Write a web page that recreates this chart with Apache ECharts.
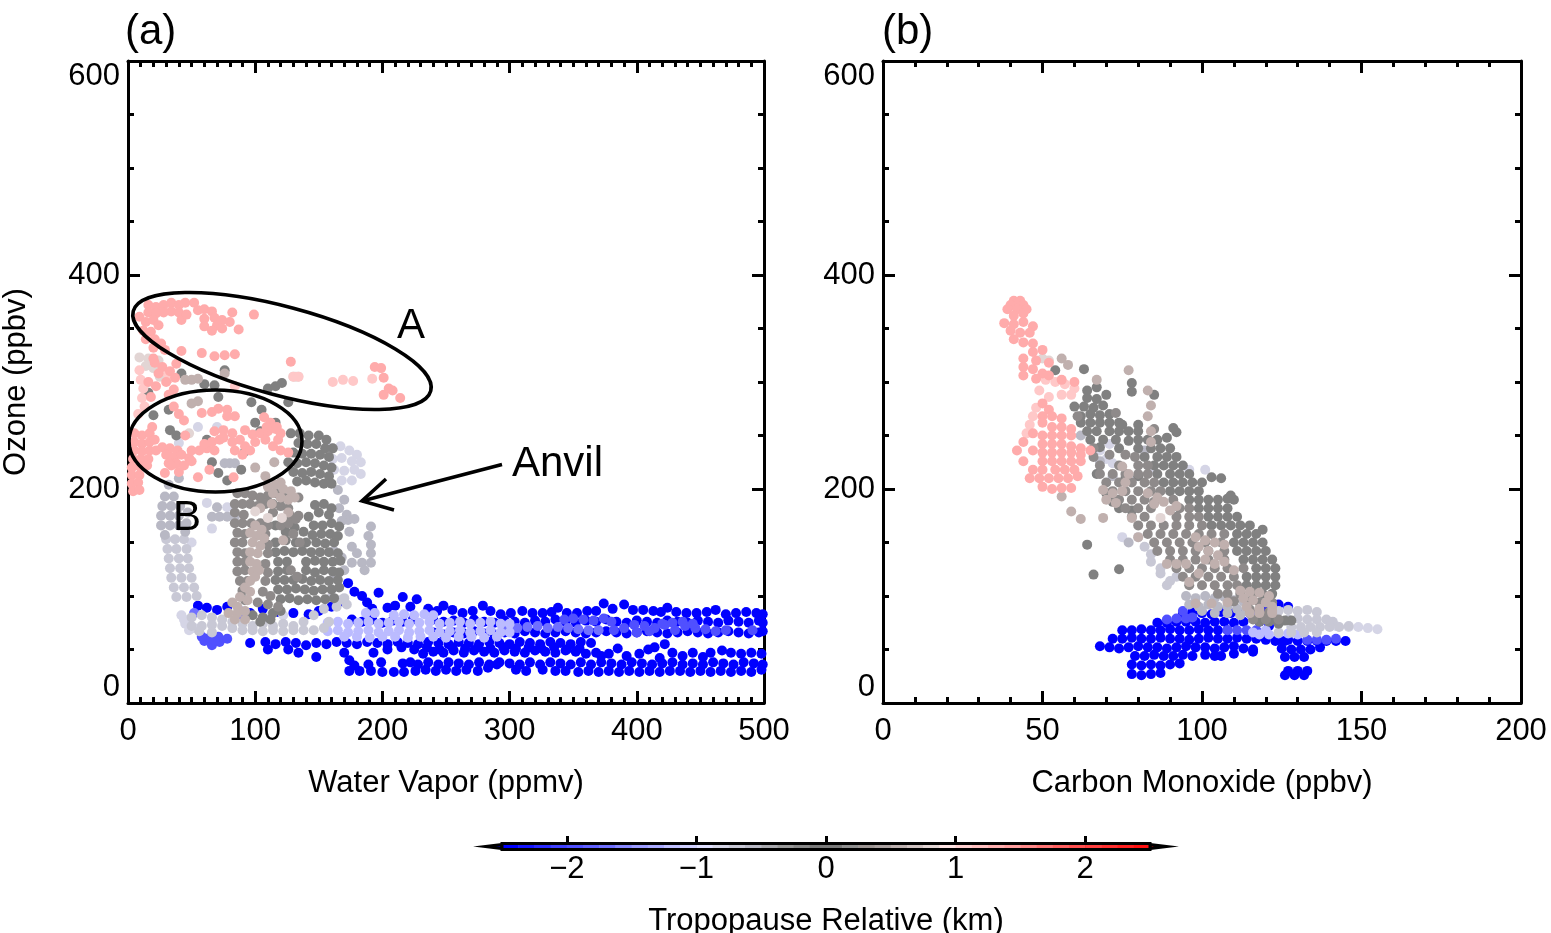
<!DOCTYPE html>
<html><head><meta charset="utf-8">
<style>html,body{margin:0;padding:0;background:#fff}#c{width:1551px;height:933px}</style>
<script src="https://cdn.jsdelivr.net/npm/echarts@6/dist/echarts.min.js"></script></head>
<body><div id="c"></div><script>
// ---- Panel (a): water vapor (ppmv), ozone (ppbv); flat x,y lists per colour class
const aBlue=[55,91,62,89,70,87,78,90,88,86,96,84,106,88,118,85,130,84,142,83,150,86,160,90,168,95,173,112,178,104,184,100,188,94,197,103,192,88,204,89,216,99,210,91,227,97,222,90,236,88,248,91,243,86,255,87,263,84,271,86,279,91,285,86,293,83,301,84,310,86,318,84,326,84,338,89,333,85,345,84,353,84,361,86,368,86,374,93,381,88,390,92,397,87,405,87,413,86,424,89,419,85,431,85,439,84,447,84,455,85,462,87,470,83,478,84,486,85,494,84,499,83,
176,78,184,76,192,78,200,75,208,77,216,76,224,78,240,78,248,76,256,77,264,75,272,78,280,76,288,75,296,77,304,76,312,75,320,77,328,76,336,78,344,76,352,75,360,77,368,76,376,78,384,76,392,75,400,77,408,76,416,75,424,77,432,76,440,75,448,77,456,76,464,75,472,77,480,76,488,75,496,77,499,75,
240,66,248,64,256,66,264,65,272,67,280,65,288,64,296,66,304,65,312,67,320,66,328,65,336,66,344,67,352,66,360,65,368,66,376,67,384,66,392,65,400,66,408,67,416,66,424,65,432,66,440,67,448,66,456,65,464,66,472,67,480,66,488,65,496,66,499,67,
108,57,116,55,124,57,132,56,140,54,148,56,156,55,164,57,172,56,180,55,188,57,196,56,204,55,212,57,220,56,228,55,236,57,244,56,252,55,260,57,268,56,276,55,284,57,292,56,300,55,308,57,316,56,324,55,332,57,340,56,348,55,356,57,364,56,
96,56,110,50,126,50,134,47,148,43,170,47,174,40,193,47,204,50,232,46,240,48,248,47,256,49,264,47,272,49,280,48,288,47,296,49,304,48,312,47,320,49,328,48,336,47,344,49,352,48,360,46,368,47,378,46,385,51,392,44,402,46,409,50,418,42,428,47,436,44,444,47,452,43,458,47,467,49,474,47,482,46,490,47,498,46,
199,38,216,37,222,38,228,36,236,38,244,36,252,38,260,37,268,36,276,38,284,36,292,38,300,37,308,36,316,38,324,36,332,38,340,37,348,36,356,38,364,36,372,38,380,37,388,36,396,38,404,37,412,36,420,37,428,38,436,36,444,37,452,36,460,38,468,37,476,36,484,38,492,37,499,36,
174,30,182,30,191,30,200,29,209,29,217,29,226,30,234,31,242,30,250,31,258,30,266,31,275,30,283,33,290,36,305,31,313,30,326,31,336,30,344,30,354,29,362,30,370,29,378,30,386,29,394,30,402,29,410,30,418,29,426,30,434,30,442,29,450,30,458,29,466,30,474,29,482,30,490,29,498,31,178,35,189,36,
215,52,225,50,235,52,245,50,255,52,265,51,275,52,285,51,295,52,305,51,315,52,325,51,335,52,345,50,355,51,372,44,414,52,422,55];
const aMid=[60,58,66,54,72,57,78,60,64,61,58,62,71,62,68,59,343,78,350,79,358,78,366,77,374,79,380,76,382,68,390,70,398,73,406,72,414,70,422,73,430,68,438,72,446,70,454,69,462,67,470,68,491,68,400,66,410,67,420,74,436,76,444,74,428,75];
const aSoft=[298,72,306,70,314,71,322,72,330,70,338,71,346,70,354,69,362,68,370,68,90,82,52,84];
const aPeri=[187,84,194,84,209,82,217,83,225,82,233,83,240,82,157,75,165,76,173,74,181,75,189,76,197,74,205,75,213,76,221,74,229,75,237,76,245,74,253,75,261,76,269,74,277,75,285,76,293,74,300,74,157,67,165,68,173,66,181,67,189,68,197,66,205,67,213,68,221,66,229,67,237,68,245,66,253,67,261,68,269,66,277,67,285,68,293,66,300,66,170,62,180,62,190,61,200,62,210,62,220,61,230,62,240,62,250,61,260,62,270,62,280,61,290,62];
const aLav=[42,82,45,74,48,68,44,78,52,70,160,238,167,240,174,236,180,232,183,225,176,226,168,229,161,228,178,218,170,217,162,218,183,214,176,208,168,208,55,258,70,258,40,243,62,187,78,183,66,163,50,150,112,81,122,82];
const aLight=[50,80,58,82,66,80,74,78,82,76,90,74,98,72,106,74,114,72,122,74,130,72,138,76,146,82,154,88,158,76,50,72,58,72,66,73,74,72,82,70,90,68,98,68,106,67,114,68,122,67,130,68,138,68,146,68,154,70,66,66,56,67,160,99,166,96,172,92,164,90,170,98,
38,99,46,99,54,100,36,108,44,108,52,108,34,117,42,117,50,117,33,126,41,126,48,126,32,135,40,135,47,135,31,144,38,144,46,144,30,153,37,153,44,153];
const aSlate=[29,193,36,193,27,184,34,184,41,184,26,175,33,175,40,175,47,178,26,166,33,166,40,166,46,168,29,157,45,160,70,183,66,174,72,174,78,174,84,174,76,224,80,224,84,224,165,199,170,190,166,182,172,176,173,171,168,170,178,172,174,160,176,146,180,140,176,131,184,131,191,131,186,124,191,140,191,148,191,165,189,156,162,142,168,136,162,120,170,124,32,204,40,210];
const aDark=[16,290,26,311,42,308,76,311,121,299,110,294,116,296,97,281,126,281,71,286,60,298,68,297,20,269,32,274,33,255,38,250,62,246,66,225,71,215,78,208,89,218,92,235,105,274,100,262,104,254,116,262,128,252,135,252,142,250,150,250,156,246,134,243,141,242,148,242,155,238,161,238,130,234,137,233,144,233,151,232,158,230,126,225,133,224,140,225,147,224,154,222,160,220,130,216,137,215,144,216,151,214,158,212,133,207,140,208,147,206,154,205,160,205,142,174,150,178,158,176,147,185,154,186,160,182,146,166,153,166,160,168,166,165,
116,166,124,160,131,164,138,160,145,157,152,158,159,158,165,156,116,150,124,152,132,150,140,150,148,150,155,149,162,150,116,141,123,142,130,141,137,142,144,141,151,141,158,141,165,140,118,132,125,132,140,132,147,133,154,132,161,132,167,133,118,123,125,124,140,124,147,122,154,124,161,123,166,122,116,115,123,115,130,115,137,116,144,114,151,115,158,114,165,115,118,106,125,106,132,107,139,106,146,105,153,106,160,106,166,108,120,97,127,98,134,96,141,97,148,96,155,97,162,98,98,82,106,80,114,84,104,76,112,78,120,86];
const aTaupe=[86,196,92,196,98,194,104,192,110,194,116,196,122,192,128,194,134,192,84,186,90,186,96,186,102,184,108,186,114,186,120,184,126,182,84,178,91,176,114,178,120,166,127,176,134,175,84,168,90,168,97,168,104,168,110,166,86,159,92,158,108,158,84,150,90,150,110,148,86,141,92,140,110,140,86,132,92,132,108,130,86,123,92,124,110,122,88,114,94,114,108,114,90,105,106,104,112,100,92,96,102,94,110,92,118,90,126,168,132,172,130,158,135,150,128,124,133,118];
const aTan=[45,302,50,302,55,303,76,308,50,280,55,282,115,225,100,220,108,212,120,206,110,202,116,204,122,200,128,198,131,192,114,196,120,192,126,190,100,166,105,162,96,159,101,156,107,154,98,150,104,147,96,141,102,140,96,132,101,130,98,123,103,124,96,114,100,118,92,108,96,104,88,99,94,96,82,94,86,90,79,84,86,84,92,86,84,78,92,78,122,152,126,178,113,186,104,182];
const aBlush=[100,179,110,173,121,173,9,323,16,322,24,320,14,315,20,313,48,252,25,305,132,305,134,305,130,305];
const aLightPink=[130,305,134,305,161,300,169,302,177,301,192,303,9,311,10,302,12,294,11,285,13,277,8,270,28,310,32,303,84,296];
const aPink=[16,372,22,370,28,372,34,374,40,372,16,365,22,364,28,365,34,366,40,365,45,374,52,374,42,358,46,363,55,367,60,368,66,366,60,359,68,360,74,358,80,356,87,349,82,365,70,353,60,352,66,348,74,350,99,363,9,361,14,356,20,358,24,353,12,348,18,347,14,340,21,340,26,336,29,330,20,332,42,329,58,327,68,324,76,325,84,326,128,319,194,314,199,313,201,304,205,294,208,292,201,288,214,285,
21,318,27,314,33,310,37,304,24,308,30,300,36,293,16,300,22,296,32,288,20,322,18,286,38,317,
5,252,11,250,17,252,5,244,11,242,17,244,21,246,5,236,11,235,17,236,22,236,4,228,10,228,16,228,3,220,9,221,15,222,3,213,9,213,3,205,8,206,4,198,9,199,
27,239,33,238,39,236,30,232,36,230,42,232,48,229,32,224,38,224,44,222,50,226,50,236,56,236,62,238,68,236,60,242,66,244,72,246,68,254,75,255,82,252,75,248,82,244,88,246,92,255,98,251,104,252,110,254,92,240,100,244,108,246,114,240,120,236,126,234,118,246,116,256,120,252,107,267,112,262,117,258,109,258,58,271,66,272,71,275,78,274,84,268,78,268,36,277,40,270,44,264,19,258,45,250,64,218,55,211,83,211,29,215,34,222,40,216,84,236,90,232,96,236];
// ---- Panel (b): carbon monoxide (ppbv), ozone (ppbv)
const bBlue=[78,27,81,26,84,27,87,28,78,36,81,35,84,36,87,35,90,36,93,37,79,44,82,44,85,45,88,44,91,44,94,45,97,44,101,45,104,44,
68,53,71,52,74,51,77,52,80,53,83,52,86,52,89,51,92,52,95,53,98,52,101,52,104,51,107,52,110,53,113,51,116,50,72,60,75,60,78,61,81,60,84,60,87,61,90,60,93,60,96,59,99,60,102,61,105,60,108,60,111,61,114,60,117,60,120,59,123,58,126,58,
75,68,78,68,81,69,84,68,87,68,90,69,93,68,96,68,99,69,102,68,105,68,108,68,86,75,89,75,92,76,95,76,98,76,101,75,104,76,107,76,110,75,113,76,94,84,97,85,100,84,103,83,106,85,109,84,112,83,115,84,118,76,121,72,124,92,127,90,120,90,
124,59,127,59,130,58,133,58,136,58,139,58,142,58,145,58,125,51,128,50,131,50,134,50,137,52,126,43,129,43,132,43,127,30,130,30,133,30,126,26,129,26,132,26,106,44,110,46,116,48];
const bMid=[89,78,92,79,95,79,97,80,108,68,111,68,114,68,117,68,133,59,136,59,139,59,142,60,94,86];
const bPeri=[118,64,121,64,124,65,127,65,130,64,120,68,116,66];
const bLav=[146,71,149,71,152,70,155,69,142,72,68,236,70,228,72,224,96,218,101,218,78,208,75,155,80,155,71,242,84,218];
const bLight=[124,86,127,87,130,86,133,87,136,85,124,78,127,78,130,79,133,78,136,78,139,78,141,76,128,71,131,71,134,71,137,71,140,71,143,71,146,72,124,66,128,66,132,66,136,66,82,146,84,139,84,132,87,126,87,121,89,110,92,118,90,114];
const bSlate=[95,100,98,98,101,100,104,98,107,99,110,96,113,95,96,92,99,90,102,92,105,90,108,90,111,88,114,86,100,86,104,84,108,84,112,82,77,150,72,212,82,236,62,250,68,226];
const bDark=[63,312,78,299,78,291,85,288,70,288,91,257,92,253,89,248,80,260,75,260,64,148,66,120,74,125,54,311,64,292,67,295,64,285,67,284,60,277,63,277,66,276,69,278,62,268,65,270,68,269,71,270,74,262,71,262,68,262,65,262,62,262,
77,254,80,254,74,254,71,254,67,254,64,254,83,246,86,246,80,246,77,245,73,246,65,246,69,246,90,238,87,238,84,238,80,238,68,239,74,238,92,230,89,230,86,230,82,230,94,222,91,222,88,222,85,222,96,214,93,214,90,214,86,214,97,206,100,206,103,211,106,210,94,206,91,206,88,206,99,198,96,198,93,198,90,198,108,191,110,190,109,194,105,190,102,190,99,190,96,190,108,182,105,182,102,182,99,182,111,174,108,174,105,174,102,174,115,166,112,166,109,166,106,166,103,166,117,158,114,158,111,158,119,162,119,150,116,150,113,150,110,150,120,142,117,142,114,142,111,142,122,134,119,134,116,134,113,134,123,126,120,126,117,126,123,118,120,118,117,118,114,118,123,110,120,110,117,110,114,110,122,102,119,102,116,102,70,196,72,188,76,210,80,212,67,214,74,182,78,180,120,80,123,78,126,77,128,77,124,74,118,76,121,76];
const bTaupe=[73,271,61,268,85,256,66,238,71,232,76,232,66,230,79,230,68,222,74,222,80,222,83,222,68,214,72,214,76,214,80,214,83,214,70,206,74,206,78,206,82,206,85,206,72,198,76,198,80,198,84,198,87,198,74,190,78,190,82,190,85,188,91,190,76,182,80,182,84,182,93,182,96,182,78,174,82,174,92,174,96,174,99,174,80,166,84,166,88,166,92,166,96,166,100,166,83,158,87,158,91,158,95,158,99,158,103,158,107,158,85,150,89,150,93,150,97,150,101,150,106,150,86,142,90,142,94,142,98,142,102,142,107,142,90,134,94,134,98,134,102,134,107,134,92,126,96,126,100,126,104,126,108,126,113,126,94,118,98,118,102,118,106,118,110,118,96,110,100,110,104,110,108,110,111,110,105,102,108,102,112,102,110,95,115,95,118,94,122,94,115,87,118,86,121,85,116,78,120,78,124,78];
const bTan=[77,311,83,292,84,278,83,268,67,302,56,322,58,316,84,254,84,244,59,179,62,172,69,173,56,193,69,199,72,196,70,190,73,187,75,221,77,214,76,206,75,198,83,196,86,192,88,188,92,184,85,186,90,180,78,173,98,155,101,152,104,150,107,148,99,146,102,142,105,138,107,132,101,134,104,130,89,130,92,130,95,130,99,121,96,113,110,124,80,155,112,105,115,104,118,103,121,100,113,98,116,96,120,94,122,90,114,90,118,88,122,86,115,84,118,84,122,84,103,93,108,94,98,93];
const bBlush=[50,322,52,320,87,173];
const bLightPink=[51,302,54,300,57,298,60,294,59,288,56,288,52,286,47,268,48,276,46,260,45,252,49,292];
const bPink=[41,376,43,376,40,372,44,372,39,368,42,368,45,368,41,362,44,364,38,355,41,354,44,356,47,352,40,348,43,346,46,346,41,340,44,337,47,336,47,328,50,330,44,322,48,320,52,318,44,314,47,312,50,308,44,306,48,303,52,306,56,302,60,300,50,280,52,274,50,268,53,268,56,266,50,262,53,258,56,258,59,256,47,252,50,250,53,250,56,250,59,250,44,244,50,242,53,242,56,242,59,240,62,238,42,236,47,236,50,234,53,234,56,234,59,234,62,232,65,236,44,226,50,226,53,226,56,226,59,226,62,226,54,218,50,218,47,218,57,218,60,218,46,210,49,210,52,210,55,210,58,210,61,212,50,202,53,200,56,201,59,201];
// ---- Colour scale and tick labels
const scaleColors=['#0000ff','#1515ff','#2a2aff','#4040ff','#5050ff','#6060ff','#7070ff','#8888ff','#9c9cff','#aaaaff','#c0c0ff','#d0d0ff','#e0e0ff','#d5d5e6','#c8c8d5','#b8b8c4','#a8a8ad','#989898','#888888','#7a7a7a','#7a7a7a','#8e8e8e','#9c9492','#a9a09f','#bcb0af','#cfc2c1','#e2d5d4','#ffe5e5','#ffd0d0','#ffc0c0','#ffb0b0','#ff9f9f','#ff8a8a','#ff7575','#ff6060','#ff5050','#ff4040','#ff3030','#ff2020','#ff1010','#ff0000'];
const scaleMin=-2.5, scaleStep=0.125;
const scaleTicks=[-2,-1,0,1,2];
const scaleEnds=[[-2.5,-2.63,'#0000ff'],[2.5,2.63,'#ff0000']];
const groupColors={Blue:'#0000ff',Mid:'#5050ff',Soft:'#7070ff',Peri:'#bbbbff',Lav:'#d5d5e6',Light:'#c8c8d5',Slate:'#b8b8c4',Dark:'#808080',Taupe:'#8e8a8a',Tan:'#c0b0ae',Blush:'#e2d5d4',LightPink:'#ffc8c8',Pink:'#ffabab'};
const FONT='"Liberation Sans"';
const pairs=f=>{const o=[];for(let i=0;i<f.length;i+=2)o.push([f[i],f[i+1]]);return o};
const scat=(name,d,idx)=>({type:'scatter',name,data:pairs(d),xAxisIndex:idx,yAxisIndex:idx,symbolSize:10,silent:true,animation:false,progressive:0,itemStyle:{color:groupColors[name],opacity:1}});
const line={show:true,onZero:false,lineStyle:{color:'#000',width:3}};
function xa(grid,max,interval,minor,name,top){return{gridIndex:grid,type:'value',min:0,max,interval,position:top?'top':'bottom',
  name:top?'':name,nameLocation:'middle',nameGap:65,nameTextStyle:{fontFamily:FONT,fontSize:31,color:'#000'},
  axisLine:line,axisTick:{show:true,inside:true,length:12,lineStyle:{color:'#000',width:3}},minorTick:{show:true,splitNumber:minor,length:6,lineStyle:{color:'#000',width:3}},
  splitLine:{show:false},minorSplitLine:{show:false},axisLabel:{show:!top,margin:13,fontFamily:FONT,fontSize:31,color:'#000',hideOverlap:false}}}
function ya(grid,name,right){return{gridIndex:grid,type:'value',min:0,max:600,interval:200,position:right?'right':'left',
  name:right?'':name,nameLocation:'middle',nameGap:96,nameTextStyle:{fontFamily:FONT,fontSize:31,color:'#000'},
  axisLine:line,axisTick:{show:true,inside:true,length:12,lineStyle:{color:'#000',width:3}},minorTick:{show:true,splitNumber:4,length:6,lineStyle:{color:'#000',width:3}},
  splitLine:{show:false},minorSplitLine:{show:false},axisLabel:{show:!right,margin:8,fontFamily:FONT,fontSize:31,color:'#000',verticalAlignMinLabel:'bottom',verticalAlignMaxLabel:'top'}}}
const aSets={Blue:aBlue,Mid:aMid,Soft:aSoft,Peri:aPeri,Lav:aLav,Light:aLight,Slate:aSlate,Dark:aDark,Taupe:aTaupe,Tan:aTan,Blush:aBlush,LightPink:aLightPink,Pink:aPink};
const bSets={Blue:bBlue,Mid:bMid,Peri:bPeri,Lav:bLav,Light:bLight,Slate:bSlate,Dark:bDark,Taupe:bTaupe,Tan:bTan,Blush:bBlush,LightPink:bLightPink,Pink:bPink};
const cells=scaleColors.slice(0,40).map((c,i)=>[scaleMin+i*scaleStep,scaleMin+(i+1)*scaleStep,c]);
const txt=(text,x,y,fs,extra)=>Object.assign({type:'text',x,y,silent:true,style:Object.assign({text,fontFamily:FONT,fontSize:fs,fill:'#000',textAlign:'left',textVerticalAlign:'middle'},extra||{})},{});
const stroke={stroke:'#000',lineWidth:3.6,fill:'none'};
const option={animation:false,backgroundColor:'#fff',
 grid:[{left:126,top:61,width:638,height:642},{left:883,top:61,width:638,height:642},{left:502,top:845,width:648,height:12,show:false}],
 xAxis:[xa(0,500,100,10,'Water Vapor (ppmv)'),xa(1,200,50,5,'Carbon Monoxide (ppbv)'),
  {gridIndex:2,type:'value',min:-2.5,max:2.5,name:'Tropopause Relative (km)',nameLocation:'middle',nameGap:58,nameTextStyle:{fontFamily:FONT,fontSize:31,color:'#000'},
   axisLine:{show:false},axisTick:{show:true,inside:true,length:12,customValues:scaleTicks,lineStyle:{color:'#000',width:3}},splitLine:{show:false},
   axisLabel:{show:true,customValues:scaleTicks,margin:6,fontFamily:FONT,fontSize:31,color:'#000',formatter:v=>v<0?'\u2212'+Math.abs(v):String(v)}},
  xa(0,500,100,10,'',true),xa(1,200,50,5,'',true)],
 yAxis:[ya(0,'Ozone (ppbv)'),ya(1,''),{gridIndex:2,type:'value',min:0,max:1,show:false},ya(0,'',true),ya(1,'',true)],
 series:[...Object.keys(aSets).map(k=>scat(k,aSets[k],0)),...Object.keys(bSets).map(k=>scat(k,bSets[k],1)),
  {type:'custom',xAxisIndex:2,yAxisIndex:2,silent:true,animation:false,data:cells,encode:{x:[0,1]},z:3,
   renderItem:(p,api)=>{const a=api.coord([api.value(0),1]),b=api.coord([api.value(1),0]);
     return{type:'rect',shape:{x:a[0],y:a[1],width:b[0]-a[0]+0.5,height:b[1]-a[1]},style:{fill:cells[p.dataIndex][2]}}}},
  {type:'custom',xAxisIndex:2,yAxisIndex:2,silent:true,animation:false,data:scaleEnds,encode:{x:[0,1]},z:2,
   renderItem:(p,api)=>{const a=api.coord([scaleEnds[p.dataIndex][0],1.2]),b=api.coord([scaleEnds[p.dataIndex][0],-0.2]),t=api.coord([scaleEnds[p.dataIndex][1],0.5]);
     return{type:'polygon',shape:{points:[a,t,b]},style:{fill:scaleEnds[p.dataIndex][2],stroke:'#000',lineWidth:3}}}},
  {type:'custom',xAxisIndex:2,yAxisIndex:2,silent:true,animation:false,data:[[-2.5,2.5]],encode:{x:[0,1]},z:4,
   renderItem:(p,api)=>{const a=api.coord([-2.5,1]),b=api.coord([2.5,0]);
     return{type:'rect',shape:{x:a[0],y:a[1]-1.5,width:b[0]-a[0],height:b[1]-a[1]+3},style:{fill:'none',stroke:'#000',lineWidth:3}}}}
 ],
 graphic:[
  {type:'ellipse',x:282,y:351,rotation:-15*Math.PI/180,shape:{cx:0,cy:0,rx:154,ry:44.3},style:stroke,z:100,silent:true},
  {type:'ellipse',x:215.5,y:441,shape:{cx:0,cy:0,rx:86.5,ry:51},style:stroke,z:100,silent:true},
  {type:'polyline',shape:{points:[[502,464.5],[362,501]]},style:{stroke:'#000',lineWidth:3.6,fill:'none'},z:100,silent:true},
  {type:'polyline',shape:{points:[[386,479],[362,501],[394,510]]},style:{stroke:'#000',lineWidth:3.6,fill:'none'},z:100,silent:true},
  Object.assign(txt('(a)',125,32,42),{z:100}),Object.assign(txt('(b)',882,32,42),{z:100}),
  Object.assign(txt('A',397,326,42),{z:100}),Object.assign(txt('B',173,518,42),{z:100}),Object.assign(txt('Anvil',512,464,42),{z:100})
 ]};
echarts.init(document.getElementById('c'),null,{renderer:'canvas'}).setOption(option);
</script></body></html>
